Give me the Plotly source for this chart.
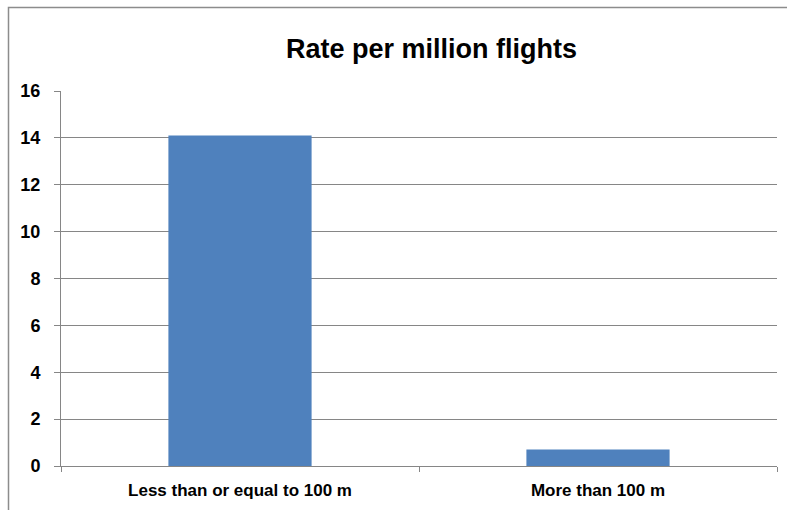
import plotly.graph_objects as go

categories = ["Less than or equal to 100 m", "More than 100 m"]
rates = [14.1, 0.7]
y_ticks = [0, 2, 4, 6, 8, 10, 12, 14, 16]
title_text = "Rate per million flights"

W, H = 787, 510
L, R, T, B = 61, 10, 91, 44
pw, ph = W - L - R, H - T - B

def px_x(x):
    return (x - L) / pw

def px_y(y):
    return (H - B - y) / ph

fig = go.Figure(go.Bar(x=categories, y=rates, marker=dict(color="#4F81BD", line=dict(width=0))))

font_family = "Liberation Sans, Arial, sans-serif"
fig.update_layout(
    width=W, height=H,
    margin=dict(l=L, r=R, t=T, b=B),
    paper_bgcolor="white", plot_bgcolor="white",
    bargap=0.6,
    showlegend=False,
    font=dict(family=font_family, color="black"),
    xaxis=dict(
        type="category", showgrid=False, showline=True, linecolor="#868686", linewidth=1,
        ticks="outside", tickson="boundaries", ticklen=5, tickcolor="#868686",
        tickfont=dict(size=17, family=font_family, color="black", weight="bold"),
        ticklabelstandoff=9,
    ),
    yaxis=dict(
        range=[0, 16], tickvals=y_ticks, showgrid=True, gridcolor="#868686", gridwidth=1,
        showline=True, linecolor="#868686", linewidth=1, zeroline=False,
        ticks="outside", ticklen=6, tickcolor="#868686",
        tickfont=dict(size=18, family=font_family, color="black", weight="bold"),
        ticklabelstandoff=10,
    ),
    shapes=[dict(type="rect", xref="paper", yref="paper",
                 x0=px_x(8.5), x1=px_x(820), y0=px_y(7.5), y1=px_y(560),
                 line=dict(color="#8C8C8C", width=1.5), fillcolor="rgba(0,0,0,0)", layer="below")],
    annotations=[dict(text=title_text, xref="paper", yref="paper",
                      x=px_x(431), y=px_y(49), xanchor="center", yanchor="middle",
                      showarrow=False, font=dict(size=27, family=font_family, color="black", weight="bold"))],
)

fig.write_html("out.html")
